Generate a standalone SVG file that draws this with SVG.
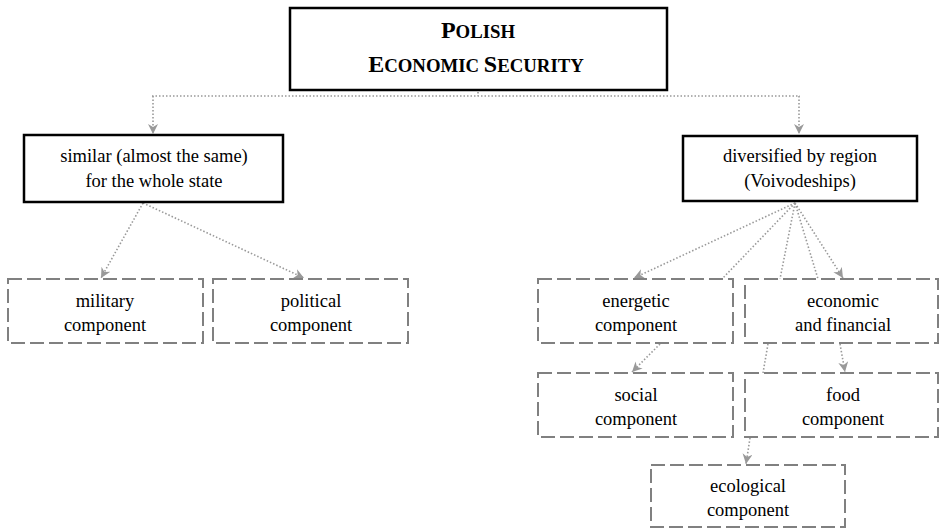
<svg xmlns="http://www.w3.org/2000/svg" width="939" height="529" viewBox="0 0 939 529">
<style>
text{font-family:"Liberation Serif","DejaVu Serif",serif;font-size:18.5px;fill:#000;text-anchor:middle}
.solid{fill:#fff;stroke:#000;stroke-width:2.5}
.dash{fill:#fff;stroke:#808080;stroke-width:2;stroke-dasharray:14 5}
.con{fill:none;stroke:#999;stroke-width:1.6;stroke-dasharray:1.5 2}
.title{font-weight:bold;font-size:18.8px}
.cap{font-size:24px}
</style>
<defs>
<marker id="arr" markerUnits="userSpaceOnUse" markerWidth="12" markerHeight="12" refX="10" refY="5" orient="auto">
<path d="M0,0 L10,5 L0,10 L3,5 Z" fill="#999"/>
</marker>
</defs>
<g id="connectors">
<path class="con" d="M152,96 H800"/>
<path class="con" d="M478,92 V96"/>
<path class="con" d="M153,96 V134" marker-end="url(#arr)"/>
<path class="con" d="M799,96 V134" marker-end="url(#arr)"/>
<path class="con" d="M143,203 L101,278" marker-end="url(#arr)"/>
<path class="con" d="M143,203 L304,278" marker-end="url(#arr)"/>
<path class="con" d="M795,203 L634,278" marker-end="url(#arr)"/>
<path class="con" d="M795,203 L722,279"/>
<path class="con" d="M795,203 L780,279"/>
<path class="con" d="M795,203 L818,279"/>
<path class="con" d="M795,203 L843,278" marker-end="url(#arr)"/>
<path class="con" d="M660,344 L632,372" marker-end="url(#arr)"/>
<path class="con" d="M768,344 L763,373"/>
<path class="con" d="M840,344 L845,372" marker-end="url(#arr)"/>
<path class="con" d="M750,438 L746,464" marker-end="url(#arr)"/>
</g>
<g id="title">
<rect class="solid" x="290" y="8" width="377" height="82"/>
<text class="title" x="478" y="38"><tspan class="cap">P</tspan>OLISH</text>
<text class="title" x="476" y="72"><tspan class="cap">E</tspan>CONOMIC <tspan class="cap">S</tspan>ECURITY</text>
</g>
<g id="similar">
<rect class="solid" x="24" y="135" width="259" height="67"/>
<text x="154" y="162">similar (almost the same)</text>
<text x="154" y="187">for the whole state</text>
</g>
<g id="diversified">
<rect class="solid" x="683" y="136" width="234" height="65"/>
<text x="800" y="162">diversified by region</text>
<text x="800" y="187">(Voivodeships)</text>
</g>
<g id="military">
<rect class="dash" x="8" y="279" width="195" height="64"/>
<text x="105" y="307">military</text>
<text x="105" y="331">component</text>
</g>
<g id="political">
<rect class="dash" x="213" y="279" width="195" height="64"/>
<text x="311" y="307">political</text>
<text x="311" y="331">component</text>
</g>
<g id="energetic">
<rect class="dash" x="538" y="279" width="195" height="64"/>
<text x="636" y="307">energetic</text>
<text x="636" y="331">component</text>
</g>
<g id="economic">
<rect class="dash" x="745" y="279" width="193" height="64"/>
<text x="843" y="307">economic</text>
<text x="843" y="331">and financial</text>
</g>
<g id="social">
<rect class="dash" x="538" y="373" width="195" height="64"/>
<text x="636" y="401">social</text>
<text x="636" y="425">component</text>
</g>
<g id="food">
<rect class="dash" x="745" y="373" width="193" height="64"/>
<text x="843" y="401">food</text>
<text x="843" y="425">component</text>
</g>
<g id="ecological">
<rect class="dash" x="651" y="465" width="194" height="62"/>
<text x="748" y="492">ecological</text>
<text x="748" y="516">component</text>
</g>
</svg>
